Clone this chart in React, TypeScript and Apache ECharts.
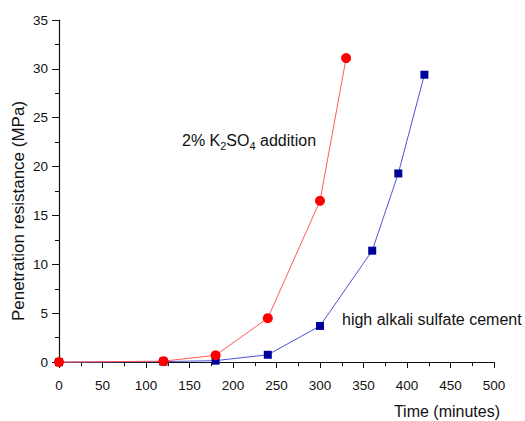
import React, { useEffect, useRef } from "react";
import * as echarts from "echarts";

// Setting time (minutes) at which penetration resistance was measured
const k2so4Times = [0, 120, 180, 240, 300, 330];
const k2so4Resistance = [0, 0.1, 0.7, 4.5, 16.5, 31.1];

const cementTimes = [0, 120, 180, 240, 300, 360, 390, 420];
const cementResistance = [0, 0.05, 0.15, 0.75, 3.7, 11.4, 19.3, 29.4];

const yMajorTicks = [0, 5, 10, 15, 20, 25, 30, 35];
const yMinorTicks = [2.5, 7.5, 12.5, 17.5, 22.5, 27.5, 32.5];

const FONT = "'Liberation Sans', Arial, sans-serif";
const INK = "#111";

export default function App() {
  const ref = useRef<HTMLDivElement>(null);

  useEffect(() => {
    if (!ref.current) return;
    const chart = echarts.init(ref.current, undefined, { renderer: "svg" });

    const pair = (xs: number[], ys: number[]) => xs.map((x, i) => [x, ys[i]]);

    chart.setOption({
      animation: false,
      backgroundColor: "#fff",
      grid: { left: 59, right: 31, top: 20, bottom: 54 },
      xAxis: {
        type: "value",
        min: 0,
        max: 500,
        interval: 50,
        axisLine: { show: true, lineStyle: { color: INK, width: 1.2 } },
        axisTick: { show: true, length: 6, lineStyle: { color: INK } },
        minorTick: { show: true, splitNumber: 2, length: 4, lineStyle: { color: INK } },
        splitLine: { show: false },
        axisLabel: { color: INK, fontSize: 13.5, fontFamily: FONT, margin: 11 },
      },
      yAxis: [
        {
          type: "value",
          min: -0.5,
          max: 35,
          axisLine: { show: true, lineStyle: { color: INK, width: 1.2 } },
          axisTick: { show: true, length: 7, customValues: yMajorTicks, lineStyle: { color: INK } },
          splitLine: { show: false },
          axisLabel: {
            color: INK,
            fontSize: 13.5,
            fontFamily: FONT,
            margin: 11,
            customValues: yMajorTicks,
          },
        },
        {
          type: "value",
          min: -0.5,
          max: 35,
          position: "left",
          axisLine: { show: false },
          axisTick: { show: true, length: 4, customValues: yMinorTicks, lineStyle: { color: INK } },
          axisLabel: { show: false },
          splitLine: { show: false },
        },
      ],
      series: [
        {
          type: "line",
          data: pair(cementTimes, cementResistance),
          symbol: "rect",
          symbolSize: 8,
          itemStyle: { color: "#00009c" },
          lineStyle: { color: "#5252d6", width: 1 },
          z: 2,
        },
        {
          type: "line",
          data: pair(k2so4Times, k2so4Resistance),
          symbol: "circle",
          symbolSize: 10,
          itemStyle: { color: "#ff0000" },
          lineStyle: { color: "#ff5a5a", width: 1 },
          z: 3,
        },
      ],
      graphic: [
        {
          type: "text",
          x: 18,
          y: 211,
          rotation: Math.PI / 2,
          style: {
            text: "Penetration resistance (MPa)",
            font: `17px ${FONT}`,
            fill: INK,
            textAlign: "center",
            textVerticalAlign: "middle",
          },
        },
        {
          type: "text",
          x: 500,
          y: 411,
          style: {
            text: "Time (minutes)",
            font: `16px ${FONT}`,
            fill: INK,
            textAlign: "right",
            textVerticalAlign: "middle",
          },
        },
        {
          type: "text",
          x: 182,
          y: 140,
          style: {
            text: "{a|2% K}{s|2}{a|SO}{s|4}{a| addition}",
            fill: INK,
            textAlign: "left",
            textVerticalAlign: "middle",
            rich: {
              a: { fontSize: 16, fontFamily: FONT, color: INK, lineHeight: 22 },
              s: { fontSize: 11, fontFamily: FONT, color: INK, verticalAlign: "bottom", lineHeight: 12 },
            },
          },
        },
        {
          type: "text",
          x: 342,
          y: 319,
          style: {
            text: "high alkali sulfate cement",
            font: `16px ${FONT}`,
            fill: INK,
            textAlign: "left",
            textVerticalAlign: "middle",
          },
        },
      ],
    });

    return () => chart.dispose();
  }, []);

  return (
    <div
      ref={ref}
      style={{ position: "fixed", left: 0, top: 0, width: 525, height: 421 }}
    />
  );
}
